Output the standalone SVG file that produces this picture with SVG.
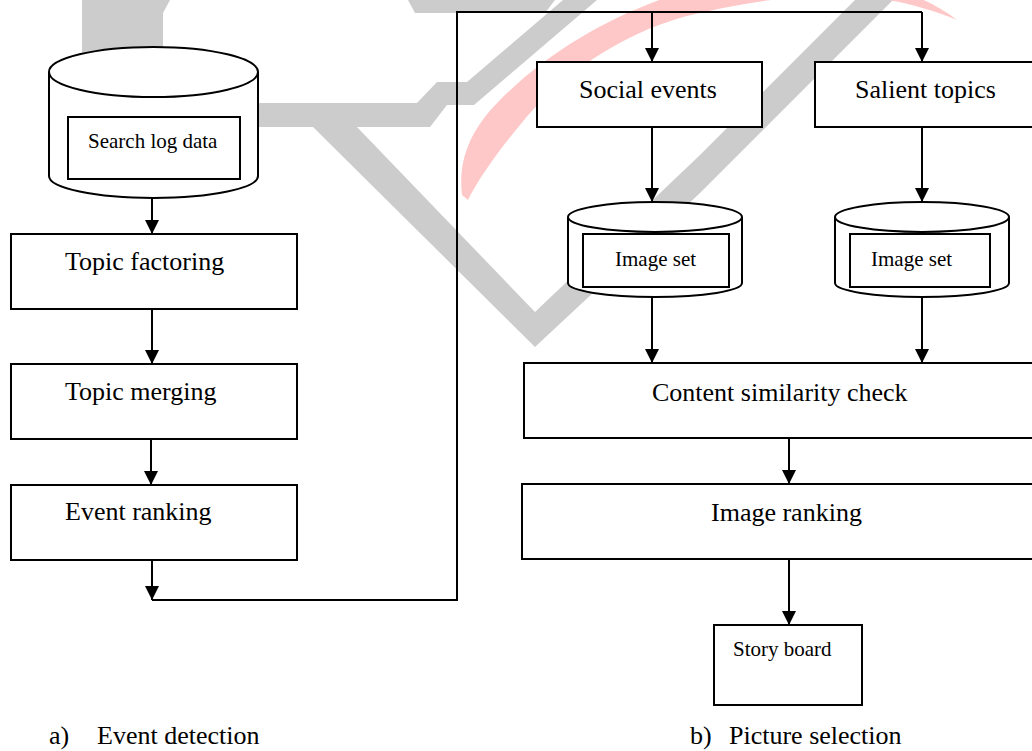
<svg xmlns="http://www.w3.org/2000/svg" width="1032" height="751" viewBox="0 0 1032 751">
<defs>
<style>
.box{fill:#fff;stroke:#000;stroke-width:2}
.cyl{fill:#fff;stroke:#000;stroke-width:2}
.con{fill:none;stroke:#000;stroke-width:2}
.lbl{font-family:"Liberation Serif","Times New Roman",serif;font-size:26px;fill:#000}
.sm{font-family:"Liberation Serif","Times New Roman",serif;font-size:21px;fill:#000}
.wm{fill:#cccccc;stroke:none}
.wr{fill:#ffc8c8;stroke:none}
</style>
<marker id="ah" markerUnits="userSpaceOnUse" markerWidth="14" markerHeight="14" refX="14" refY="7" orient="auto">
<path d="M0,0 L14,7 L0,14 z" fill="#000"/>
</marker>
</defs>
<rect width="1032" height="751" fill="#fff"/>
<g id="watermark">
<path class="wm" d="M82,0 L170,0 L163,13 L163,103 L417,103 L437,82 L467,82 L563,0 L597,0 L474,105 L447,105 L430,127 L357,127 L535,312 L700,155 L855,0 L893,0 L700,193 L535,347 L313,127 L82,127 Z"/>
<path class="wm" d="M408,0 L555,0 L545,13 L415,13 Z"/>
<path class="wr" d="M462,195 C458,160 470,130 500,100 C560,40 640,0 720,-18 C800,-30 900,-25 957,20 C920,5 880,-5 830,-5 C780,-3 730,5 683,17 C620,35 560,75 520,125 C495,155 478,180 468,200 Z"/>
</g>
<g id="connectors">
<line class="con" x1="152" y1="198" x2="152" y2="234" marker-end="url(#ah)"/>
<line class="con" x1="152" y1="309" x2="152" y2="364" marker-end="url(#ah)"/>
<line class="con" x1="151" y1="439" x2="151" y2="485" marker-end="url(#ah)"/>
<line class="con" x1="152" y1="560" x2="152" y2="600" marker-end="url(#ah)"/>
<polyline class="con" points="152,600 457,600 457,12 922,12"/>
<line class="con" x1="652" y1="12" x2="652" y2="62" marker-end="url(#ah)"/>
<line class="con" x1="922" y1="12" x2="922" y2="62" marker-end="url(#ah)"/>
<line class="con" x1="652" y1="127" x2="652" y2="202" marker-end="url(#ah)"/>
<line class="con" x1="922" y1="127" x2="922" y2="202" marker-end="url(#ah)"/>
<line class="con" x1="652" y1="297" x2="652" y2="363" marker-end="url(#ah)"/>
<line class="con" x1="922" y1="297" x2="922" y2="363" marker-end="url(#ah)"/>
<line class="con" x1="789" y1="438" x2="789" y2="484" marker-end="url(#ah)"/>
<line class="con" x1="789" y1="559" x2="789" y2="625" marker-end="url(#ah)"/>
</g>
<g id="search-log">
<path class="cyl" d="M49,72 L49,176 A104.5,22 0 0 0 258,176 L258,72"/>
<ellipse class="cyl" cx="153.5" cy="72" rx="104.5" ry="25"/>
<rect class="box" x="68" y="117" width="172" height="62"/>
<text class="sm" x="88" y="148">Search log data</text>
</g>
<g id="topic-factoring">
<rect class="box" x="11" y="234" width="286" height="75"/>
<text class="lbl" x="65" y="270">Topic factoring</text>
</g>
<g id="topic-merging">
<rect class="box" x="11" y="364" width="286" height="75"/>
<text class="lbl" x="65" y="400">Topic merging</text>
</g>
<g id="event-ranking">
<rect class="box" x="11" y="485" width="286" height="75"/>
<text class="lbl" x="65" y="520">Event ranking</text>
</g>
<g id="social-events">
<rect class="box" x="537" y="62" width="225" height="65"/>
<text class="lbl" x="579" y="98">Social events</text>
</g>
<g id="salient-topics">
<rect class="box" x="815" y="62" width="240" height="65"/>
<text class="lbl" x="855" y="98">Salient topics</text>
</g>
<g id="image-set-1">
<path class="cyl" d="M568,217 L568,283 A87,14 0 0 0 742,283 L742,217"/>
<ellipse class="cyl" cx="655" cy="217" rx="87" ry="15"/>
<rect class="box" x="583" y="234" width="146" height="53"/>
<text class="sm" x="615" y="266">Image set</text>
</g>
<g id="image-set-2">
<path class="cyl" d="M835,217 L835,283 A87,14 0 0 0 1009,283 L1009,217"/>
<ellipse class="cyl" cx="922" cy="217" rx="87" ry="15"/>
<rect class="box" x="850" y="234" width="140" height="53"/>
<text class="sm" x="871" y="266">Image set</text>
</g>
<g id="content-similarity">
<rect class="box" x="524" y="363" width="530" height="75"/>
<text class="lbl" x="652" y="401">Content similarity check</text>
</g>
<g id="image-ranking">
<rect class="box" x="522" y="484" width="530" height="75"/>
<text class="lbl" x="711" y="521">Image ranking</text>
</g>
<g id="story-board">
<rect class="box" x="714" y="625" width="148" height="80"/>
<text class="sm" x="733" y="656">Story board</text>
</g>
<g id="captions">
<text class="lbl" x="49" y="744">a)</text>
<text class="lbl" x="97" y="744">Event detection</text>
<text class="lbl" x="690" y="744">b)</text>
<text class="lbl" x="729" y="744">Picture selection</text>
</g>
</svg>
